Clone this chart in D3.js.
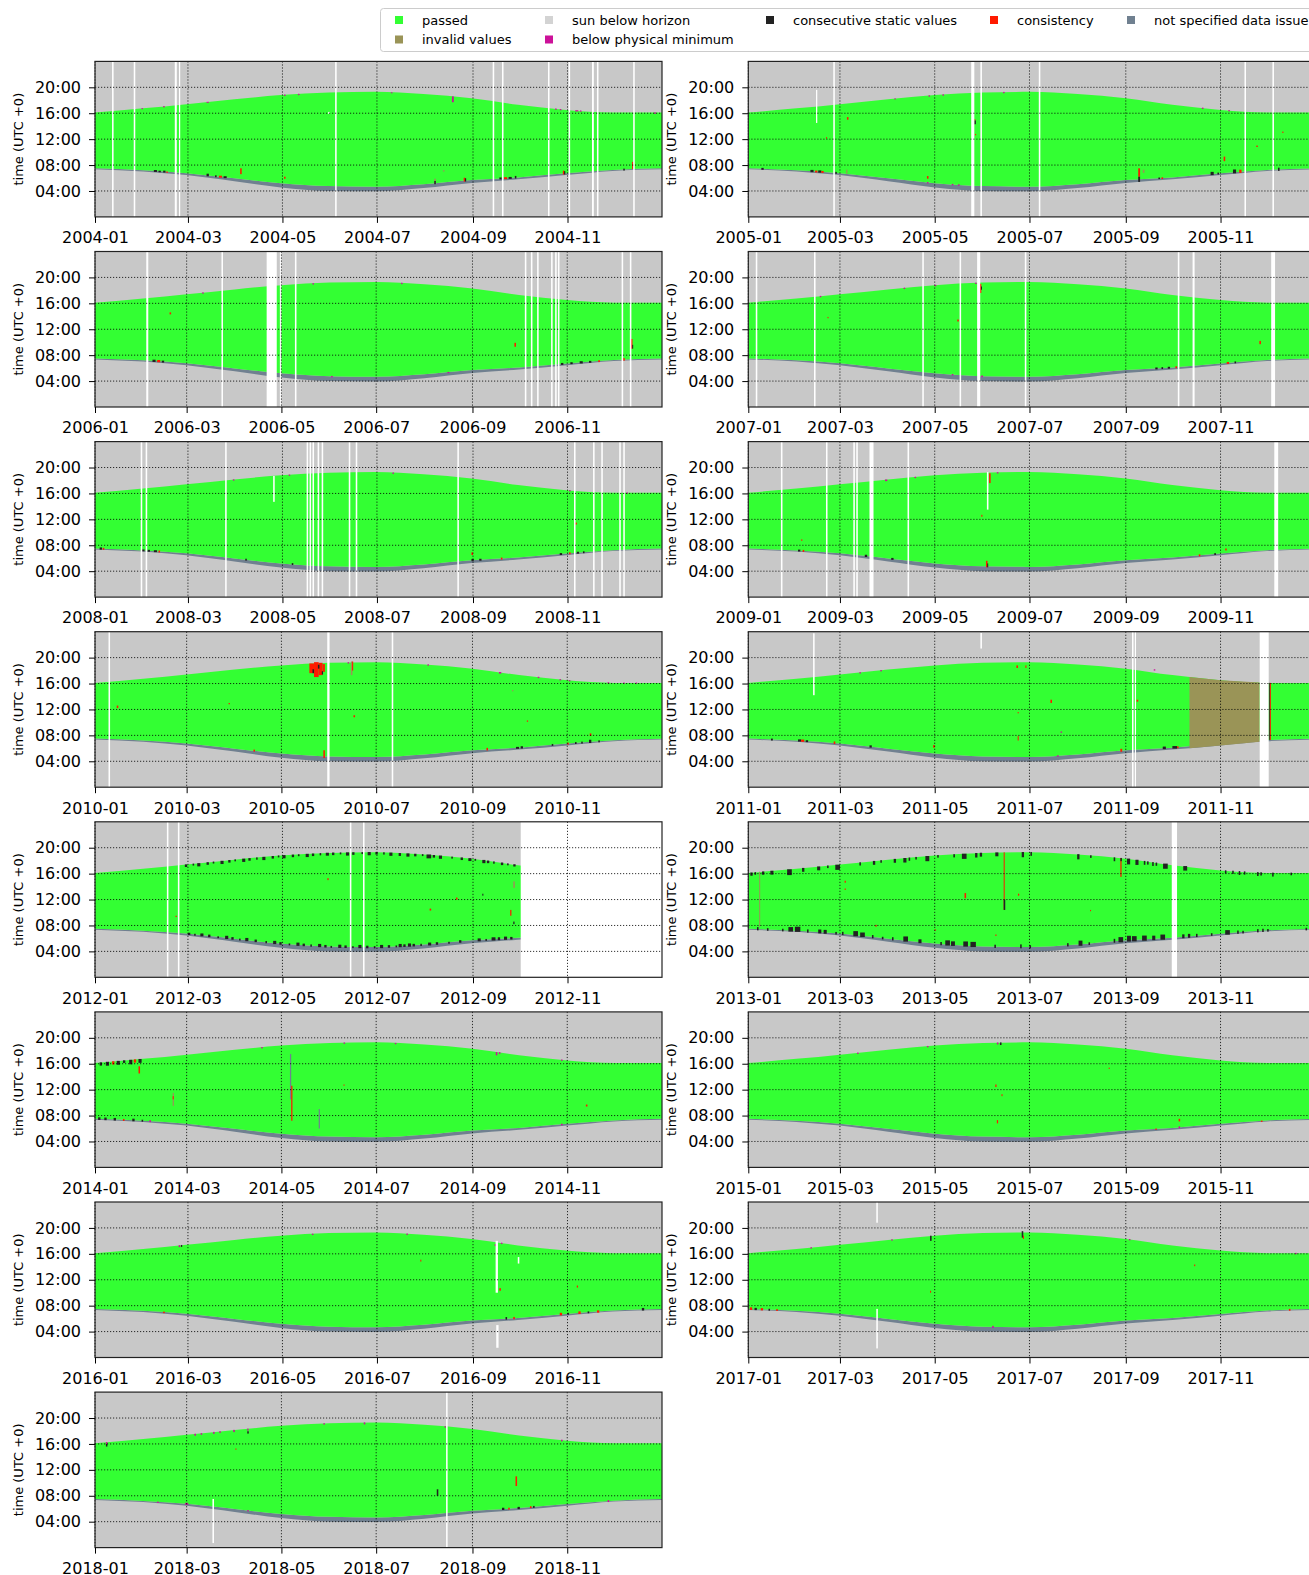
<!DOCTYPE html>
<html>
<head>
<meta charset="utf-8">
<script src="https://cdn.jsdelivr.net/npm/d3@7"></script>
<style>
  body { margin: 0; background: #fff; }
  text { font-family: "DejaVu Sans", sans-serif; fill: #000; }
</style>
</head>
<body>
<svg id="chart" width="1309" height="1575"></svg>
<script>
// ---- data ----
var years = [2004, 2005, 2006, 2007, 2008, 2009, 2010, 2011, 2012, 2013, 2014, 2015, 2016, 2017, 2018];
var monthTicks = [1, 3, 5, 7, 9, 11];
var hourTicks = [4, 8, 12, 16, 20];

// sun curves (hours UTC) at day-of-year, read at month starts
var curveDays = [0, 31, 59, 90, 120, 151, 181, 212, 243, 273, 304, 334, 366];
var sunsetHours = [16.1, 16.75, 17.4, 18.15, 18.8, 19.2, 19.3, 18.95, 18.3, 17.3, 16.5, 16.1, 16.1];
var sunriseHours = [7.35, 7.02, 6.45, 5.5, 4.55, 4.0, 3.95, 4.45, 5.25, 5.8, 6.45, 7.1, 7.35];
var issueTopHours = [7.5, 7.2, 6.75, 5.95, 5.2, 4.75, 4.66, 5.05, 5.7, 6.1, 6.73, 7.25, 7.5];

var legendKeys = ["passed", "sun below horizon", "consecutive static values", "consistency", "not specified data issue", "invalid values", "below physical minimum"];
var legendColors = ["#33ff33", "#d3d3d3", "#222222", "#ff1a00", "#708090", "#9a9457", "#cc1199"];

// missing data: [year, day, width in days], full height
var gaps = [
  [2004, 11, 1], [2004, 25, 1], [2004, 51.5, 1.3], [2004, 54.2, 0.8], [2004, 155, 1], [2004, 256.7, 1], [2004, 262.7, 1],
  [2004, 292.4, 1], [2004, 305.7, 1], [2004, 320.8, 1.2], [2004, 324, 1], [2004, 347.4, 1],
  [2005, 54.7, 1], [2005, 143.5, 2], [2005, 149.4, 1], [2005, 187, 1], [2005, 319.4, 1], [2005, 337.4, 1],
  [2006, 33, 1.3], [2006, 81.4, 1], [2006, 110.5, 6.5], [2006, 119, 1], [2006, 128.7, 1], [2006, 276.7, 1], [2006, 280.6, 1],
  [2006, 284.6, 1], [2006, 293.6, 1], [2006, 296.2, 1], [2006, 298, 1], [2006, 339, 1], [2006, 344.3, 1],
  [2007, 4.8, 1], [2007, 42.3, 1], [2007, 112, 1], [2007, 136, 1], [2007, 147.3, 2], [2007, 178, 1], [2007, 276.5, 1],
  [2007, 286, 1.3], [2007, 336.6, 2.5],
  [2008, 29.5, 1], [2008, 32.7, 1], [2008, 84, 1], [2008, 136.6, 1], [2008, 138.5, 1], [2008, 140.4, 1], [2008, 143.7, 1],
  [2008, 146.3, 1], [2008, 163.8, 1], [2008, 168.3, 1], [2008, 233.9, 1], [2008, 309.2, 1], [2008, 321.5, 1], [2008, 326.8, 1],
  [2008, 338.4, 1], [2008, 341, 1],
  [2009, 21, 1], [2009, 50, 1], [2009, 67.6, 1], [2009, 69.5, 1], [2009, 78, 2.6], [2009, 102.5, 1], [2009, 338.6, 2.5],
  [2010, 8.7, 1], [2010, 149.5, 1.5], [2010, 191, 1],
  [2011, 247, 1], [2011, 248.8, 0.8], [2011, 329.2, 5.8],
  [2012, 46.4, 1], [2012, 53.5, 1], [2012, 164.5, 1], [2012, 173, 1], [2012, 274.8, 92],
  [2013, 272.6, 3.4],
  [2018, 226, 1]
];

// partial gaps: [year, day, width, from hour, to hour]
var partGaps = [
  [2004, 150.5, 1, 15.9, 16.2],
  [2005, 43.6, 0.8, 14.5, 19.6],
  [2008, 115, 1, 14.7, 18.7],
  [2009, 153.6, 1, 13.5, 19.3],
  [2011, 41.7, 1, 14.2, 23.75], [2011, 149.4, 1, 21.4, 23.8],
  [2016, 258.6, 1.5, 10, 18], [2016, 259, 1.5, 1.5, 5], [2016, 272.9, 1, 14.5, 15.5],
  [2017, 82.4, 1, 20.8, 24], [2017, 82.4, 1, 1.4, 7.5],
  [2018, 75.6, 1, 0.7, 7.5]
];

// flagged blocks covering the whole day: [year, from day, to day, code]
var dayBlocks = [[2011, 284, 329.2, "i"]];

// isolated flags: [year, day, width, from hour, to hour, code]
var marks = [
  [2004, 93.7, 1, 6.6, 7.5, "c"], [2004, 122, 1, 5.9, 6.2, "c"], [2004, 230.4, 1.2, 17.7, 18.6, "m"],
  [2004, 224.6, 1, 7.0, 7.2, "i"], [2004, 219, 1, 5.1, 5.9, "i"], [2004, 346.7, 0.8, 7.4, 8.5, "c"],
  [2005, 63.5, 1, 15.0, 15.4, "c"], [2005, 50, 0.7, 12.1, 12.3, "c"], [2005, 115, 1, 5.9, 6.3, "c"],
  [2005, 145.5, 1, 14.3, 14.9, "s"], [2005, 145.5, 0.6, 14.9, 15.1, "c"], [2005, 146, 0.6, 12.6, 12.8, "c"],
  [2005, 251, 1.2, 6.2, 7.5, "c"], [2005, 251, 1.2, 5.4, 6.2, "s"], [2005, 254, 1, 6.8, 7.3, "i"],
  [2005, 306, 1, 8.6, 9.3, "c"], [2005, 327, 1, 10.8, 11, "c"], [2005, 341, 1, 7.1, 7.6, "s"],
  [2005, 343.6, 1, 13.0, 13.15, "c"], [2005, 63, 0.8, 6.7, 7.3, "i"],
  [2006, 48, 1, 14.3, 14.6, "c"], [2006, 270, 1, 9.3, 9.9, "c"], [2006, 345, 1, 9, 10.5, "c"], [2006, 345.8, 0.5, 9, 9.6, "s"],
  [2007, 149, 1, 17.6, 19, "c"], [2007, 149.8, 0.6, 18.1, 18.6, "s"], [2007, 134.5, 1, 13.2, 13.5, "c"],
  [2007, 329, 1, 9.7, 10.2, "c"], [2007, 51, 0.6, 13.7, 13.9, "c"],
  [2008, 310, 1, 11.2, 11.5, "c"], [2008, 243, 1, 6.5, 6.9, "c"],
  [2009, 155, 1, 17.6, 19.1, "c"], [2009, 150, 0.7, 12.4, 12.7, "c"], [2009, 34, 0.8, 8.7, 8.9, "c"],
  [2009, 307, 1, 7.2, 7.5, "c"], [2009, 153, 1, 4.6, 5.6, "c"], [2009, 153.8, 0.6, 4.6, 5.2, "s"],
  [2010, 138, 3, 17.6, 19.1, "c"], [2010, 141, 3, 17.0, 19.3, "c"], [2010, 144, 2.5, 17.3, 19.2, "c"],
  [2010, 146.5, 1.5, 17.8, 19.0, "c"], [2010, 140, 1, 17.6, 18.2, "s"], [2010, 143.5, 1, 18.3, 18.9, "s"],
  [2010, 146, 0.8, 17.4, 17.9, "s"],
  [2010, 164.7, 1, 17.3, 19.4, "i"], [2010, 165.5, 0.7, 18, 19.4, "c"],
  [2010, 147, 1, 4.5, 5.7, "c"], [2010, 14, 1, 12.2, 12.6, "c"], [2010, 86, 0.8, 12.8, 13, "c"],
  [2010, 166.4, 1, 10.8, 11.1, "c"], [2010, 268.5, 0.8, 14.8, 15, "i"], [2010, 278, 0.8, 10.1, 10.3, "c"],
  [2010, 318.5, 1, 7.9, 8.3, "c"],
  [2011, 335.6, 0.8, 7.3, 16.1, "c"], [2011, 335, 0.6, 7.3, 16.1, "s"], [2011, 119, 1, 6.1, 6.5, "c"],
  [2011, 172.6, 1, 18.4, 18.8, "c"], [2011, 178.4, 0.6, 18.4, 18.8, "c"], [2011, 194.5, 1, 13.0, 13.5, "c"],
  [2011, 173.4, 0.5, 11.4, 11.6, "c"], [2011, 173.4, 0.5, 7.2, 7.9, "c"], [2011, 201, 1, 8.4, 8.6, "m"],
  [2011, 250, 1, 13.2, 13.5, "c"], [2011, 261, 1, 18.0, 18.2, "m"],
  [2012, 216, 1, 10.3, 10.6, "c"], [2012, 233, 1, 12.0, 12.3, "c"], [2012, 270, 1, 13.8, 14.8, "i"],
  [2012, 268, 0.8, 9.5, 10.4, "c"], [2012, 270, 0.8, 8.2, 8.6, "s"], [2012, 52, 0.8, 9.3, 9.5, "c"],
  [2012, 150, 0.8, 15, 15.3, "c"], [2012, 250, 0.7, 12.6, 12.9, "s"],
  [2013, 164.4, 0.6, 10.4, 19.3, "c"], [2013, 164.4, 1, 10.4, 12, "s"], [2013, 239.5, 0.8, 15.5, 18.4, "c"],
  [2013, 7, 0.6, 7.8, 16.3, "i"], [2013, 62, 0.8, 14.6, 14.9, "c"], [2013, 62, 0.8, 13.5, 13.7, "c"],
  [2013, 139.2, 1, 12.2, 13, "c"], [2013, 81.8, 0.8, 7.8, 8.1, "c"], [2013, 120, 0.8, 7.2, 7.4, "c"],
  [2013, 159, 0.8, 6.4, 6.6, "c"], [2013, 173.6, 0.8, 12.6, 12.9, "c"], [2013, 220, 0.6, 10.2, 10.4, "c"],
  [2014, 28, 1, 14.5, 15.6, "c"], [2014, 50, 0.8, 9.5, 11.5, "i"], [2014, 50, 0.5, 10.5, 11, "c"],
  [2014, 125.5, 0.8, 10.5, 17.5, "n"], [2014, 126.3, 0.8, 7.2, 12.6, "c"], [2014, 144, 0.8, 6, 9, "n"],
  [2014, 316, 1, 9.4, 9.7, "c"], [2014, 160, 0.6, 12.6, 12.8, "c"], [2014, 258, 1, 17.3, 17.8, "m"],
  [2015, 159, 0.8, 12.4, 12.8, "c"], [2015, 160, 0.8, 6.8, 7.3, "c"], [2015, 232, 0.6, 15.2, 15.4, "c"],
  [2015, 277, 1, 7.1, 7.5, "c"], [2015, 163, 0.6, 11.0, 11.3, "c"],
  [2016, 261, 1, 10.3, 10.7, "c"], [2016, 210, 0.6, 14.8, 15.1, "c"], [2016, 311, 0.8, 10.8, 11.1, "c"],
  [2016, 258, 1, 17.2, 17.5, "m"],
  [2017, 117, 1, 18.0, 18.8, "s"], [2017, 176, 1, 18.5, 19.5, "s"], [2017, 287, 0.7, 14.1, 14.35, "c"],
  [2017, 117, 0.6, 10.0, 10.3, "c"], [2017, 176.8, 0.5, 18.3, 18.8, "c"],
  [2018, 7, 1, 15.6, 16.1, "s"], [2018, 90.4, 0.6, 15.1, 15.3, "c"], [2018, 98, 1, 17.6, 17.95, "s"],
  [2018, 220, 1, 8.0, 9.0, "s"], [2018, 270.7, 1, 9.5, 11.0, "c"]
];

// flags sitting on the sunrise ("b") or sunset ("t") edge: [year, day, width, edge, length in hours, code]
var edgeMarks = [
  [2004, 38, 2, "b", 0.3, "s"], [2004, 41, 1.5, "b", 0.25, "s"], [2004, 44, 1.5, "b", 0.3, "s"], [2004, 46, 1, "b", 0.2, "c"],
  [2004, 72, 1.5, "b", 0.4, "s"], [2004, 77.5, 1, "b", 0.3, "s"], [2004, 80, 2, "b", 0.3, "c"], [2004, 83, 2, "b", 0.3, "s"],
  [2004, 238, 1, "b", 0.6, "c"], [2004, 238.8, 0.8, "b", 0.5, "s"], [2004, 261, 1.5, "b", 0.3, "s"], [2004, 264, 2, "b", 0.3, "c"],
  [2004, 267, 2, "b", 0.3, "s"], [2004, 271, 1, "b", 0.4, "s"], [2004, 302, 1, "b", 0.6, "c"], [2004, 302.8, 0.8, "b", 0.5, "s"],
  [2004, 341, 1, "b", 0.3, "s"], [2004, 219, 1, "b", 0.5, "s"],
  [2004, 30, 1, "t", 0.15, "m"], [2004, 44, 1, "t", 0.2, "m"], [2004, 72, 1.5, "t", 0.15, "m"], [2004, 122, 1, "t", 0.2, "m"],
  [2004, 131, 1, "t", 0.2, "m"], [2004, 297, 1, "t", 0.2, "m"], [2004, 300, 1, "t", 0.2, "m"], [2004, 310, 2, "t", 0.2, "m"],
  [2004, 313, 1, "t", 0.2, "m"], [2004, 361, 1, "t", 0.25, "m"], [2004, 191, 1, "t", 0.15, "m"],
  [2005, 8.4, 1.5, "b", 0.3, "s"], [2005, 40, 2, "b", 0.35, "s"], [2005, 43, 1.5, "b", 0.3, "c"], [2005, 45, 2, "b", 0.35, "s"],
  [2005, 47, 1.5, "b", 0.3, "c"], [2005, 56, 1, "b", 0.3, "s"], [2005, 264, 1, "b", 0.25, "s"], [2005, 266, 1, "b", 0.25, "c"],
  [2005, 297.6, 2, "b", 0.5, "s"], [2005, 302, 1, "b", 0.3, "s"], [2005, 312, 2, "b", 0.6, "s"], [2005, 316, 1.5, "b", 0.5, "c"],
  [2005, 131, 1, "b", 0.2, "m"], [2005, 115, 1, "b", 0.2, "m"], [2005, 135, 1, "b", 0.2, "m"],
  [2005, 94, 1, "t", 0.15, "m"], [2005, 116, 1, "t", 0.2, "m"], [2005, 125, 1, "t", 0.2, "m"], [2005, 164, 1, "t", 0.2, "m"],
  [2005, 292, 1, "t", 0.2, "m"], [2005, 309, 1, "t", 0.2, "m"],
  [2006, 37, 2, "b", 0.35, "s"], [2006, 40, 2, "b", 0.35, "c"], [2006, 43, 1.5, "b", 0.3, "s"], [2006, 300, 1.5, "b", 0.3, "s"],
  [2006, 306, 1.5, "b", 0.3, "s"], [2006, 312, 2, "b", 0.35, "s"], [2006, 318, 1.5, "b", 0.3, "s"], [2006, 324, 1, "b", 0.3, "c"],
  [2006, 340, 1, "b", 0.4, "c"], [2006, 152, 1, "b", 0.2, "m"], [2006, 227, 1, "b", 0.2, "m"],
  [2006, 140, 1, "t", 0.2, "m"], [2006, 197, 1, "t", 0.2, "m"], [2006, 69, 1, "t", 0.2, "m"],
  [2007, 262, 1.5, "b", 0.3, "s"], [2007, 266, 1, "b", 0.3, "s"], [2007, 270, 1.5, "b", 0.3, "s"], [2007, 275, 1, "b", 0.3, "c"],
  [2007, 308, 1.5, "b", 0.3, "c"], [2007, 313, 1, "b", 0.3, "s"], [2007, 131, 1, "b", 0.2, "m"], [2007, 150, 1, "b", 0.25, "m"],
  [2007, 100, 1, "t", 0.2, "m"], [2007, 120, 1, "t", 0.2, "m"], [2007, 146, 1, "t", 0.2, "m"], [2007, 46, 1, "t", 0.2, "m"],
  [2008, 3, 1.5, "b", 0.35, "s"], [2008, 5, 1, "b", 0.3, "c"], [2008, 30, 2, "b", 0.3, "s"], [2008, 34, 1.5, "b", 0.3, "s"],
  [2008, 38, 2, "b", 0.3, "s"], [2008, 41, 1, "b", 0.3, "c"], [2008, 97, 1, "b", 0.3, "s"], [2008, 127, 1, "b", 0.3, "s"],
  [2008, 243, 1.5, "b", 0.35, "s"], [2008, 248, 1.5, "b", 0.3, "s"], [2008, 262, 1, "b", 0.3, "c"], [2008, 300, 1.5, "b", 0.3, "s"],
  [2008, 306, 1, "b", 0.3, "c"], [2008, 311, 1.5, "b", 0.3, "s"], [2008, 315, 1, "b", 0.3, "s"],
  [2008, 89, 1, "t", 0.2, "m"], [2008, 125, 1, "t", 0.2, "m"], [2008, 192, 1, "t", 0.2, "m"], [2008, 306, 1, "t", 0.2, "m"],
  [2008, 343, 1, "t", 0.2, "m"],
  [2009, 32, 1.5, "b", 0.3, "s"], [2009, 35, 1, "b", 0.3, "c"], [2009, 75, 1.5, "b", 0.35, "s"], [2009, 79, 1, "b", 0.3, "s"],
  [2009, 92, 1.5, "b", 0.3, "s"], [2009, 290, 1, "b", 0.3, "c"], [2009, 300, 1, "b", 0.3, "s"],
  [2009, 88, 1.5, "t", 0.25, "m"], [2009, 107, 1, "t", 0.2, "m"], [2009, 160, 1, "t", 0.2, "m"],
  [2010, 102, 1, "b", 0.3, "c"], [2010, 252, 1, "b", 0.4, "c"], [2010, 271, 2, "b", 0.3, "s"], [2010, 274, 1.5, "b", 0.35, "s"],
  [2010, 294, 1, "b", 0.3, "s"], [2010, 304, 1, "b", 0.3, "c"], [2010, 309, 1, "b", 0.3, "s"], [2010, 313, 1, "b", 0.3, "s"],
  [2010, 318, 1.5, "b", 0.5, "s"], [2010, 324, 1, "b", 0.3, "s"],
  [2010, 162.6, 1, "t", 0.2, "m"], [2010, 214, 1, "t", 0.2, "m"], [2010, 260, 1.5, "t", 0.25, "m"], [2010, 285, 1, "t", 0.2, "m"],
  [2010, 299, 1, "t", 0.2, "m"], [2010, 305, 1, "t", 0.2, "m"], [2010, 330, 1, "t", 0.2, "m"], [2010, 340, 1, "t", 0.2, "m"],
  [2010, 348, 1, "t", 0.2, "m"],
  [2011, 14.6, 1.2, "b", 0.3, "s"], [2011, 32, 2, "b", 0.35, "s"], [2011, 34, 2, "b", 0.35, "c"], [2011, 37, 1.5, "b", 0.3, "s"],
  [2011, 55, 1, "b", 0.4, "c"], [2011, 78, 1.5, "b", 0.35, "s"], [2011, 198.8, 1, "b", 0.2, "m"], [2011, 239.5, 1.2, "b", 0.45, "c"],
  [2011, 266.8, 2, "b", 0.4, "s"], [2011, 273, 3, "b", 0.4, "s"], [2011, 276, 1, "b", 0.3, "c"],
  [2011, 71.5, 1, "t", 0.2, "m"], [2011, 85, 1, "t", 0.2, "m"],
  [2014, 3, 1.5, "t", 0.5, "s"], [2014, 7, 2, "t", 0.6, "s"], [2014, 11, 1.5, "t", 0.5, "c"], [2014, 14, 2, "t", 0.6, "s"],
  [2014, 18, 1.5, "t", 0.4, "s"], [2014, 22, 2, "t", 0.7, "s"], [2014, 25, 1.5, "t", 0.5, "c"], [2014, 28, 2, "t", 0.6, "s"],
  [2014, 107, 1, "t", 0.2, "m"], [2014, 160, 1, "t", 0.2, "m"], [2014, 193, 1, "t", 0.2, "m"], [2014, 260, 1, "t", 0.25, "m"],
  [2014, 300, 1, "t", 0.2, "m"],
  [2014, 2, 1.5, "b", 0.4, "s"], [2014, 6, 1.5, "b", 0.4, "s"], [2014, 12, 1.5, "b", 0.4, "s"], [2014, 18, 1, "b", 0.3, "c"],
  [2014, 24, 1.5, "b", 0.4, "s"], [2014, 30, 1, "b", 0.3, "s"], [2014, 35, 1, "b", 0.3, "m"], [2014, 300, 1, "b", 0.25, "m"],
  [2015, 70, 1, "t", 0.2, "m"], [2015, 115, 1, "t", 0.2, "m"], [2015, 160, 1, "t", 0.3, "m"], [2015, 162, 1, "t", 0.4, "s"],
  [2015, 277, 1, "b", 0.3, "m"], [2015, 262, 1, "b", 0.2, "c"], [2015, 330, 1, "b", 0.2, "c"],
  [2016, 300, 1.5, "b", 0.4, "c"], [2016, 305, 1, "b", 0.3, "s"], [2016, 312, 1.5, "b", 0.4, "c"], [2016, 318, 1, "b", 0.3, "s"],
  [2016, 324, 1.5, "b", 0.35, "c"], [2016, 353, 1.5, "b", 0.4, "s"], [2016, 44, 1, "b", 0.25, "c"], [2016, 265, 1, "b", 0.4, "s"],
  [2016, 270, 1, "b", 0.35, "c"],
  [2016, 54, 1, "t", 0.3, "m"], [2016, 55.5, 0.8, "t", 0.3, "s"], [2016, 140, 1, "t", 0.2, "m"], [2016, 262, 1, "t", 0.2, "m"],
  [2016, 201, 1, "t", 0.2, "m"],
  [2017, 1, 1.5, "b", 0.4, "c"], [2017, 4, 1.5, "b", 0.35, "s"], [2017, 8, 1.5, "b", 0.35, "c"], [2017, 13, 1, "b", 0.3, "s"],
  [2017, 18, 1, "b", 0.3, "c"], [2017, 157, 1, "b", 0.3, "m"], [2017, 348, 1, "b", 0.3, "c"],
  [2017, 40, 1, "t", 0.2, "m"], [2017, 92, 1, "t", 0.2, "m"], [2017, 245, 1, "t", 0.2, "m"], [2017, 352, 1, "t", 0.2, "m"],
  [2018, 64, 1, "t", 0.3, "m"], [2018, 68, 1, "t", 0.25, "m"], [2018, 76, 1, "t", 0.3, "m"], [2018, 80, 1, "t", 0.25, "m"],
  [2018, 89, 1, "t", 0.35, "m"], [2018, 98, 0.8, "t", 0.35, "m"], [2018, 147, 1, "t", 0.2, "m"], [2018, 173, 1, "t", 0.3, "m"],
  [2018, 225, 1, "t", 0.2, "m"], [2018, 300, 1, "t", 0.25, "m"], [2018, 7, 1, "t", 0.3, "m"],
  [2018, 58, 2, "b", 0.3, "m"], [2018, 40, 1, "b", 0.2, "m"], [2018, 98, 1, "b", 0.2, "m"], [2018, 262, 1.5, "b", 0.35, "s"],
  [2018, 266, 1, "b", 0.3, "c"], [2018, 272, 1.5, "b", 0.35, "s"], [2018, 280, 1, "b", 0.3, "c"], [2018, 282, 1, "b", 0.3, "s"],
  [2018, 330, 1, "b", 0.3, "m"]
];

// dense runs of consecutive static values on the edges in 2012 and 2013: [day, width, length in hours]
var static2012Top = [[58, 1.5, 0.4], [63, 1, 0.3], [66, 2, 0.5], [72, 1.5, 0.4], [76, 1, 0.3], [81, 2, 0.5], [86, 1.5, 0.4],
  [90, 1, 0.3], [95, 2, 0.5], [99, 1.5, 0.4], [104, 1, 0.35], [108, 2, 0.5], [114, 1.5, 0.4], [118, 1, 0.3], [121, 2, 0.5],
  [127, 1.5, 0.4], [131, 1, 0.3], [136, 2, 0.5], [140, 1.5, 0.4], [145, 1, 0.35], [149, 2, 0.45], [153, 1.5, 0.4],
  [158, 1, 0.3], [162, 2, 0.5], [166, 1.5, 0.4], [172, 1, 0.3], [176, 2, 0.5], [181, 1.5, 0.4], [186, 1, 0.35],
  [190, 2, 0.5], [196, 1.5, 0.45], [201, 2, 0.5], [206, 1.5, 0.4], [211, 1, 0.3], [214, 3, 0.6], [218, 1.5, 0.4],
  [222, 2, 0.5], [230, 1, 0.3], [236, 1.5, 0.4], [241, 2, 0.45], [245, 1, 0.3], [250, 2, 0.5], [253, 1.5, 0.4],
  [257, 1, 0.35], [262, 1.5, 0.4], [266, 1, 0.3], [270, 1.5, 0.35]];
var static2012Bottom = [[60, 1.5, 0.35], [64, 1, 0.3], [68, 2, 0.45], [73, 1.5, 0.4], [79, 1, 0.3], [84, 2, 0.5],
  [88, 1.5, 0.4], [93, 1, 0.3], [97, 2, 0.5], [103, 1.5, 0.4], [110, 1, 0.35], [115, 2, 0.5], [119, 1.5, 0.4],
  [125, 1, 0.3], [130, 2, 0.5], [134, 1.5, 0.4], [139, 1, 0.35], [144, 2, 0.5], [148, 1.5, 0.4], [152, 1, 0.3],
  [157, 2, 0.5], [161, 1.5, 0.4], [166, 1, 0.3], [170, 2, 0.5], [175, 1.5, 0.4], [180, 1, 0.35], [184, 2, 0.5],
  [189, 1.5, 0.4], [194, 1, 0.3], [196, 2, 0.5], [199, 1.5, 0.4], [202, 2, 0.5], [205, 1.5, 0.4], [210, 1, 0.35],
  [215, 2, 0.45], [220, 1.5, 0.4], [228, 1, 0.3], [235, 1.5, 0.4], [247, 2, 0.45], [252, 1, 0.3], [256, 2.5, 0.5],
  [260, 1.5, 0.45], [264, 2, 0.5], [268, 1.5, 0.4]];
var static2013Top = [[1.3, 1.5, 0.5], [4, 1, 0.4], [8.8, 1.5, 0.5], [14.2, 2, 0.6], [25, 3, 0.9], [34.6, 1.5, 0.6],
  [44.3, 2, 0.6], [50.7, 1, 0.4], [56, 3, 0.8], [71.5, 1, 0.5], [80.2, 1.5, 0.6], [85, 1, 0.4], [93.6, 1.5, 0.6],
  [99.8, 2, 0.7], [103.2, 1, 0.5], [107.5, 1, 0.4], [114, 2.5, 0.8], [121.6, 1, 0.4], [132, 1, 0.5], [137.5, 3, 0.8],
  [146, 1.5, 0.7], [149, 1.5, 0.6], [159, 2, 0.6], [176, 1.5, 0.8], [181.6, 1, 0.6], [211.7, 1.5, 0.8], [220, 1, 0.4],
  [235.2, 1, 0.6], [239.5, 1, 0.5], [243.8, 2, 0.9], [249.2, 2, 0.8], [254.6, 1, 0.6], [256.7, 1, 0.5], [260, 1, 0.6],
  [262.2, 1, 0.5], [267, 3, 0.8], [280, 2.5, 0.7], [306.8, 1, 0.5], [311.5, 1, 0.5], [315.7, 1, 0.6], [319, 1, 0.5],
  [327.5, 1, 0.6], [329.6, 1, 0.5], [337.2, 1, 0.6], [349, 1, 0.4]];
var static2013Bottom = [[5.6, 1, 0.5], [12, 1, 0.4], [21.7, 1, 0.4], [25.8, 3, 0.7], [30, 3.5, 0.8], [37.8, 1, 0.5],
  [45, 2, 0.6], [48.5, 2, 0.6], [56, 1, 0.4], [60.3, 1, 0.5], [67.6, 3, 0.8], [72, 3, 0.7], [79.6, 1, 0.5], [86, 1, 0.4],
  [92.5, 1, 0.5], [99.8, 3, 0.8], [109.5, 2, 0.6], [123.6, 1, 0.5], [126.8, 3, 0.8], [130.5, 2.5, 0.7], [138.4, 3, 0.8],
  [143, 3.5, 0.8], [158.4, 1, 0.5], [175, 1, 0.6], [181, 1, 0.5], [205.2, 1, 0.5], [212.6, 2.5, 0.8], [219, 1, 0.4],
  [235.2, 1, 0.6], [238.3, 3, 0.8], [243.8, 2.5, 0.9], [247, 3, 0.8], [253.5, 3, 0.8], [260, 2, 0.7], [265.3, 3, 0.8],
  [279.3, 1.5, 0.6], [283, 1.5, 0.6], [288.2, 1, 0.5], [297.8, 1, 0.4], [307, 3, 0.7], [314.7, 1, 0.5], [318, 1, 0.4],
  [327.5, 1, 0.5], [330.8, 1, 0.5], [334, 1, 0.4], [358.7, 1, 0.4]];

// ---- drawing ----
var codeColor = { s: legendColors[2], c: legendColors[3], n: legendColors[4], i: legendColors[5], m: legendColors[6] };

var svg = d3.select("#chart");
var plotW = 567;
var plotH = 155.5;
var colLeft = [95, 748.3];
var firstTop = 61.4;
var rowStep = 190.1;

// piecewise readers of the sun curves
var sunsetAt = d3.scaleLinear().domain(curveDays).range(sunsetHours);
var sunriseAt = d3.scaleLinear().domain(curveDays).range(sunriseHours);
var issueAt = d3.scaleLinear().domain(curveDays).range(issueTopHours);

years.forEach(function (year, i) {
  var left = colLeft[i % 2];
  var top = firstTop + Math.floor(i / 2) * rowStep;
  var start = new Date(year, 0, 1);

  var xScale = d3.scaleTime().domain([start, new Date(year + 1, 0, 1)]).range([0, plotW]);
  var yScale = d3.scaleLinear().domain([0, 24]).range([plotH, 0]);
  var dayX = function (d) { return xScale(new Date(start.getTime() + d * 864e5)); };

  var g = svg.append("g").attr("transform", "translate(" + left + "," + top + ")");

  g.append("clipPath").attr("id", "clip" + year)
    .append("rect").attr("width", plotW).attr("height", plotH);
  var inner = g.append("g").attr("clip-path", "url(#clip" + year + ")");

  // sun below horizon
  inner.append("rect").attr("width", plotW).attr("height", plotH).attr("fill", "#c8c8c8");

  var band = function (lo, hi) {
    return d3.area()
      .x(function (d) { return dayX(d); })
      .y0(function (d, k) { return yScale(lo[k]); })
      .y1(function (d, k) { return yScale(hi[k]); })
      .curve(d3.curveMonotoneX)(curveDays);
  };

  // not specified data issue right after sunrise, then passed values
  inner.append("path").attr("d", band(sunriseHours, issueTopHours)).attr("fill", legendColors[4]);
  inner.append("path").attr("d", band(issueTopHours, sunsetHours)).attr("fill", legendColors[0]);

  // whole-day flag blocks
  dayBlocks.filter(function (b) { return b[0] === year; }).forEach(function (b) {
    var days = curveDays.filter(function (d) { return d > b[1] && d < b[2]; });
    days = [b[1]].concat(days, [b[2]]);
    var area = d3.area()
      .x(function (d) { return dayX(d); })
      .y0(function (d) { return yScale(sunriseAt(d)); })
      .y1(function (d) { return yScale(sunsetAt(d)); });
    inner.append("path").attr("d", area(days)).attr("fill", codeColor[b[3]]);
  });

  // single flags
  var rects = marks.filter(function (m) { return m[0] === year; }).map(function (m) {
    return { day: m[1], w: m[2], h0: m[3], h1: m[4], code: m[5] };
  });
  edgeMarks.filter(function (m) { return m[0] === year; }).forEach(function (m) {
    var h0, h1;
    if (m[3] === "t") { h1 = sunsetAt(m[1]) + 0.05; h0 = h1 - m[4]; }
    else { h0 = issueAt(m[1]) - 0.15; h1 = h0 + m[4]; }
    rects.push({ day: m[1], w: m[2], h0: h0, h1: h1, code: m[5] });
  });
  var staticRuns = { 2012: [static2012Top, static2012Bottom], 2013: [static2013Top, static2013Bottom] }[year];
  if (staticRuns) {
    staticRuns[0].forEach(function (m) {
      var h1 = sunsetAt(m[0]) + 0.05;
      rects.push({ day: m[0], w: m[1], h0: h1 - m[2], h1: h1, code: "s" });
    });
    staticRuns[1].forEach(function (m) {
      var h0 = issueAt(m[0]) - 0.2;
      rects.push({ day: m[0], w: m[1], h0: h0, h1: h0 + m[2], code: "s" });
    });
  }

  inner.selectAll(".flag")
    .data(rects)
    .join("rect")
    .attr("class", "flag")
    .attr("x", function (d) { return dayX(d.day); })
    .attr("width", function (d) { return Math.max(1, dayX(d.day + d.w) - dayX(d.day)); })
    .attr("y", function (d) { return yScale(d.h1); })
    .attr("height", function (d) { return Math.max(1, yScale(d.h0) - yScale(d.h1)); })
    .attr("fill", function (d) { return codeColor[d.code]; });

  // missing data
  inner.selectAll(".gap")
    .data(gaps.filter(function (d) { return d[0] === year; }))
    .join("rect")
    .attr("class", "gap")
    .attr("x", function (d) { return dayX(d[1]); })
    .attr("width", function (d) { return dayX(d[1] + d[2]) - dayX(d[1]); })
    .attr("y", 0)
    .attr("height", plotH)
    .attr("fill", "#fff");

  inner.selectAll(".pgap")
    .data(partGaps.filter(function (d) { return d[0] === year; }))
    .join("rect")
    .attr("class", "pgap")
    .attr("x", function (d) { return dayX(d[1]); })
    .attr("width", function (d) { return dayX(d[1] + d[2]) - dayX(d[1]); })
    .attr("y", function (d) { return yScale(d[4]); })
    .attr("height", function (d) { return yScale(d[3]) - yScale(d[4]); })
    .attr("fill", "#fff");

  // dotted grid
  var xTicks = monthTicks.map(function (m) { return new Date(year, m - 1, 1); });
  g.selectAll(".vgrid")
    .data(xTicks)
    .join("line")
    .attr("class", "vgrid")
    .attr("x1", function (d) { return xScale(d); })
    .attr("x2", function (d) { return xScale(d); })
    .attr("y1", 0)
    .attr("y2", plotH)
    .attr("stroke", "#000")
    .attr("stroke-width", 0.8)
    .attr("stroke-dasharray", "1.2,1.8");
  g.selectAll(".hgrid")
    .data(hourTicks)
    .join("line")
    .attr("class", "hgrid")
    .attr("x1", 0)
    .attr("x2", plotW)
    .attr("y1", function (d) { return yScale(d); })
    .attr("y2", function (d) { return yScale(d); })
    .attr("stroke", "#000")
    .attr("stroke-width", 0.8)
    .attr("stroke-dasharray", "1.2,1.8");

  // frame
  g.append("rect")
    .attr("width", plotW)
    .attr("height", plotH)
    .attr("fill", "none")
    .attr("stroke", "#222")
    .attr("stroke-width", 1.2);

  // axes
  var xAxis = d3.axisBottom(xScale)
    .tickValues(xTicks)
    .tickFormat(d3.timeFormat("%Y-%m"))
    .tickSize(6)
    .tickPadding(9);
  var yAxis = d3.axisLeft(yScale)
    .tickValues(hourTicks)
    .tickFormat(function (h) { return d3.format("02d")(h) + ":00"; })
    .tickSize(6)
    .tickPadding(8);

  var gx = g.append("g").attr("transform", "translate(0," + plotH + ")").call(xAxis);
  var gy = g.append("g").call(yAxis);
  [gx, gy].forEach(function (ax) {
    ax.select(".domain").remove();
    ax.selectAll("line").attr("stroke", "#000").attr("stroke-width", 1);
    ax.selectAll("text")
      .attr("font-size", 16)
      .attr("font-family", "DejaVu Sans, sans-serif")
      .attr("fill", "#000");
  });

  g.append("text")
    .attr("transform", "translate(-77," + plotH / 2 + ") rotate(-90)")
    .attr("text-anchor", "middle")
    .attr("dy", "0.35em")
    .attr("font-size", 13)
    .text("time (UTC +0)");
});

// ---- legend ----
var legend = svg.append("g");
legend.append("rect")
  .attr("x", 380.5)
  .attr("y", 8.5)
  .attr("width", 945)
  .attr("height", 43)
  .attr("rx", 3)
  .attr("fill", "#fff")
  .attr("stroke", "#cccccc");

var legendPos = [[399, 20], [549, 20], [770, 20], [994, 20], [1131, 20], [399, 39.5], [549, 39.5]];
legend.selectAll(".legend-rect")
  .data(legendKeys)
  .join("rect")
  .attr("class", "legend-rect")
  .attr("x", function (d, k) { return legendPos[k][0] - 4; })
  .attr("y", function (d, k) { return legendPos[k][1] - 4; })
  .attr("width", 8)
  .attr("height", 8)
  .attr("fill", function (d, k) { return legendColors[k]; });

legend.selectAll(".legend-label")
  .data(legendKeys)
  .join("text")
  .attr("class", "legend-label")
  .attr("x", function (d, k) { return legendPos[k][0] + 23; })
  .attr("y", function (d, k) { return legendPos[k][1]; })
  .attr("dy", "0.35em")
  .attr("font-size", 13)
  .text(function (d) { return d; });
</script>
</body>
</html>
